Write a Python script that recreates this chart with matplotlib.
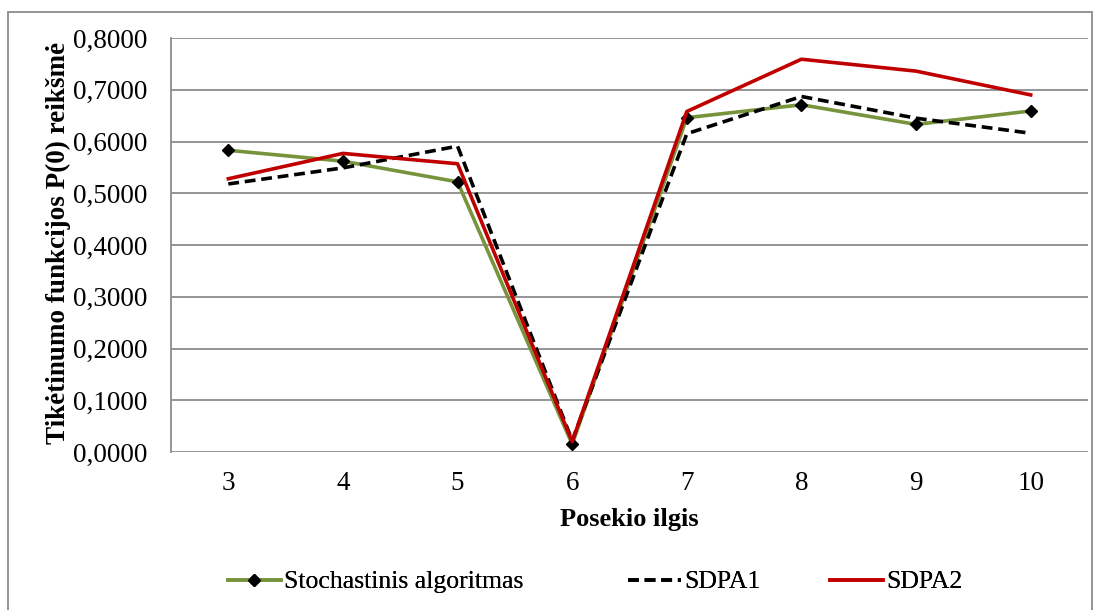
import matplotlib
matplotlib.use("Agg")
import matplotlib.pyplot as plt
from matplotlib.patches import Rectangle

categories = ["3", "4", "5", "6", "7", "8", "9", "10"]
stochastinis = [0.583, 0.562, 0.522, 0.015, 0.646, 0.671, 0.633, 0.659]
sdpa1 = [0.518, 0.549, 0.591, 0.022, 0.615, 0.687, 0.645, 0.616]
sdpa2 = [0.528, 0.577, 0.557, 0.020, 0.658, 0.759, 0.736, 0.690]
yticks = [0.0, 0.1, 0.2, 0.3, 0.4, 0.5, 0.6, 0.7, 0.8]

plt.rcParams['font.family'] = ['Liberation Serif', 'DejaVu Serif']

W, H = 1099, 610
fig = plt.figure(figsize=(W / 100, H / 100), dpi=100)
ax = fig.add_axes([171 / W, 1 - 452 / H, (1088 - 171) / W, (452 - 38) / H])

x = list(range(len(categories)))
l1, = ax.plot(x, stochastinis, color='#77933C', lw=2.6, marker='D', markersize=6,
              markerfacecolor='black', markeredgecolor='black', label='Stochastinis algoritmas', zorder=3)
l2, = ax.plot(x, sdpa1, color='black', lw=2.6, ls=(0, (3, 1.6)), label='SDPA1', zorder=4)
l3, = ax.plot(x, sdpa2, color='#C00000', lw=2.6, label='SDPA2', zorder=5)

ax.set_xlim(-0.5, len(categories) - 0.5)
ax.set_ylim(0, 0.8)
ax.set_xticks(x)
ax.set_xticklabels(categories)
ax.set_yticks(yticks)
ax.set_yticklabels([f"{v:.4f}".replace('.', ',') for v in yticks])
ax.tick_params(axis='both', length=0, labelsize=19.5, colors='black')
ax.tick_params(axis='y', pad=17)
ax.tick_params(axis='x', pad=14)
ax.yaxis.grid(True, color='#8c8c8c', lw=1.3)
ax.set_axisbelow(True)
for s in ['top', 'right', 'bottom']:
    ax.spines[s].set_visible(False)
ax.spines['left'].set_color('#8c8c8c')
ax.spines['left'].set_linewidth(1.3)

ax.set_xlabel('Posekio ilgis', fontsize=19, fontweight='bold', labelpad=8)
fig.text(58 / W, 1 - 243 / H, 'Tikėtinumo funkcijos P(0) reikšmė', rotation=90,
         fontsize=19.5, fontweight='bold', ha='center', va='center')

# legend entries, positioned like the original (uneven spacing)
for line, xpos in [(l1, 228), (l2, 628), (l3, 830)]:
    lg = fig.legend(handles=[line], loc='center left', bbox_to_anchor=(xpos / W, 1 - 582 / H),
                    frameon=False, fontsize=18.5, handlelength=2.05, handletextpad=0.12,
                    borderpad=0, borderaxespad=0)
    fig.add_artist(lg)

fig.patches.append(Rectangle((8 / W, -0.05), (1092 - 8) / W, 1 - 12 / H + 0.05,
                             transform=fig.transFigure, fill=False, edgecolor='#8c8c8c', lw=1.3))

fig.savefig('out.png', dpi=100)
